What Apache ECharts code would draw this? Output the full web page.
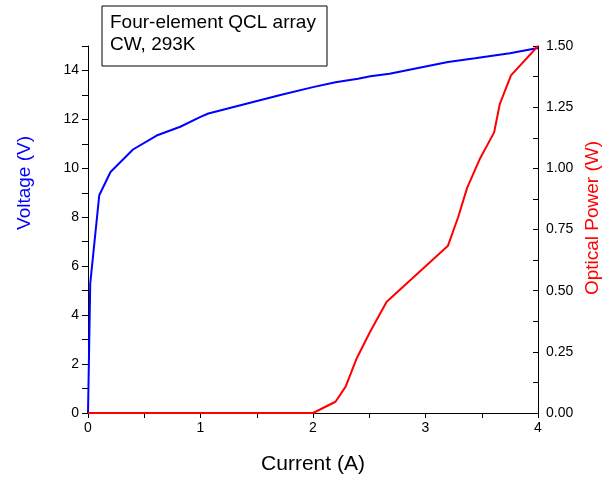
<!DOCTYPE html>
<html>
<head>
<meta charset="utf-8">
<script src="https://cdn.jsdelivr.net/npm/echarts@6/dist/echarts.min.js"></script>
<style>
    html, body { margin: 0; padding: 0; background: #fff; }
    #main { width: 606px; height: 478px; }
</style>
</head>
<body>
<div id="main"></div>
<script>
// 电压曲线 (左轴)
var vCurrent = [0, 0.02, 0.10, 0.20, 0.40, 0.61, 0.82, 1.00, 1.07, 1.71, 2.00, 2.20, 2.40, 2.51, 2.68, 3.20, 3.44, 3.75, 4.00];
var voltage  = [0, 5.3, 8.9, 9.85, 10.77, 11.34, 11.70, 12.10, 12.24, 13.00, 13.32, 13.52, 13.66, 13.76, 13.87, 14.35, 14.50, 14.70, 14.92];

// 光功率曲线 (右轴)
var pCurrent = [0, 2.00, 2.20, 2.29, 2.39, 2.51, 2.655, 3.20, 3.29, 3.37, 3.48, 3.61, 3.66, 3.76, 4.00];
var power    = [0, 0, 0.046, 0.108, 0.225, 0.334, 0.455, 0.684, 0.80, 0.92, 1.036, 1.147, 1.262, 1.38, 1.50];

// 刻度标签
var xTicks = [0, 1, 2, 3, 4];
var vTicks = [0, 2, 4, 6, 8, 10, 12, 14];
var pTicks = [0, 0.25, 0.5, 0.75, 1, 1.25, 1.5];

function pairs(xs, ys) {
    return xs.map(function (x, i) { return [x, ys[i]]; });
}

var font = 'Liberation Sans, Arial, sans-serif';
var myChart = echarts.init(document.getElementById('main'));

var option = {
    backgroundColor: '#fff',
    animation: false,
    grid: { left: 88, right: 68, top: 46, bottom: 65 },
    xAxis: {
        type: 'value',
        min: 0, max: 4, interval: 1,
        axisLine: { lineStyle: { color: '#000', width: 1 } },
        axisTick: { length: 5, lineStyle: { color: '#000' } },
        minorTick: { show: true, splitNumber: 2, length: 5, lineStyle: { color: '#000' } },
        splitLine: { show: false },
        axisLabel: {
            color: '#000', fontSize: 14, fontFamily: font, margin: 8,
            formatter: function (v) { return xTicks.indexOf(v) > -1 ? String(v) : ''; }
        }
    },
    yAxis: [
        {
            type: 'value',
            min: 0, max: 15, interval: 1,
            axisLine: { show: true, lineStyle: { color: '#000', width: 1 } },
            axisTick: { show: true, length: 6, lineStyle: { color: '#000' } },
            splitLine: { show: false },
            axisLabel: {
                color: '#000', fontSize: 14, fontFamily: font, margin: 9,
                formatter: function (v) { return vTicks.indexOf(v) > -1 ? String(v) : ''; }
            }
        },
        {
            type: 'value',
            position: 'right',
            min: 0, max: 1.5, interval: 0.25,
            axisLine: { show: true, lineStyle: { color: '#000', width: 1 } },
            axisTick: { show: true, inside: true, length: 5, lineStyle: { color: '#000' } },
            minorTick: { show: true, splitNumber: 2, length: 5, lineStyle: { color: '#000' } },
            splitLine: { show: false },
            axisLabel: {
                color: '#000', fontSize: 14, fontFamily: font, margin: 8,
                formatter: function (v) { return pTicks.indexOf(v) > -1 ? v.toFixed(2) : ''; }
            }
        }
    ],
    series: [
        {
            name: 'Voltage',
            type: 'line',
            yAxisIndex: 0,
            data: pairs(vCurrent, voltage),
            showSymbol: false,
            lineStyle: { color: '#0000ff', width: 2 },
            z: 3
        },
        {
            name: 'Optical Power',
            type: 'line',
            yAxisIndex: 1,
            data: pairs(pCurrent, power),
            showSymbol: false,
            lineStyle: { color: '#ff0000', width: 2 },
            z: 4
        }
    ],
    graphic: [
        // 坐标轴标题
        {
            type: 'text', x: 25, y: 183, rotation: Math.PI / 2,
            style: { text: 'Voltage (V)', fill: '#0000ff', font: '19px ' + font, align: 'center', verticalAlign: 'middle' }
        },
        {
            type: 'text', x: 593, y: 218, rotation: Math.PI / 2,
            style: { text: 'Optical Power (W)', fill: '#ff0000', font: '19px ' + font, align: 'center', verticalAlign: 'middle' }
        },
        {
            type: 'text', x: 313, y: 464,
            style: { text: 'Current (A)', fill: '#000', font: '21px ' + font, align: 'center', verticalAlign: 'middle' }
        },
        // 注释框
        {
            type: 'rect', shape: { x: 102, y: 6, width: 225, height: 60 },
            style: { fill: '#fff', stroke: '#000', lineWidth: 1 }, z: 10
        },
        {
            type: 'text', x: 110, y: 12, z: 11,
            style: { text: 'Four-element QCL array\nCW, 293K', fill: '#000', font: '19px ' + font, lineHeight: 22 }
        }
    ]
};

myChart.setOption(option);
</script>
</body>
</html>
